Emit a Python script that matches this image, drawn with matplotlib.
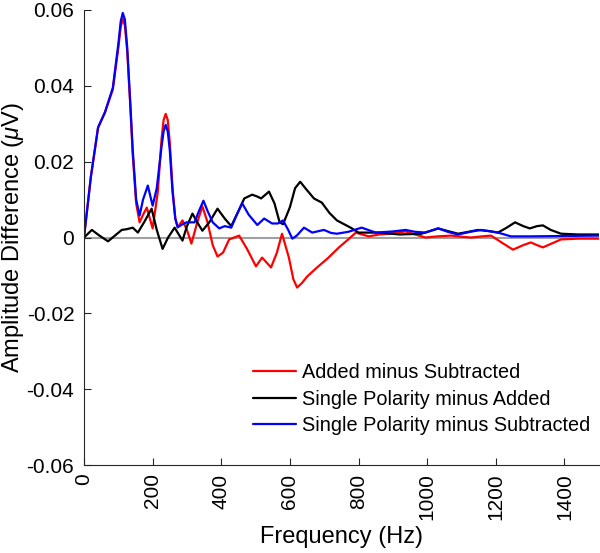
import numpy as np
import matplotlib
matplotlib.use("Agg")
import matplotlib.pyplot as plt

plt.rcParams["font.family"] = ["Liberation Sans", "DejaVu Sans"]
plt.rcParams["mathtext.fontset"] = "custom"
plt.rcParams["mathtext.it"] = "Liberation Sans:italic"

# Added minus Subtracted
red_f = [0, 20, 41, 61, 84, 100, 107, 113, 119, 126, 134, 142, 152, 162, 172, 183,
         192, 200, 215, 226, 232, 238, 244, 250, 258, 266, 273, 287, 300, 313, 330,
         345, 360, 375, 389, 405, 423, 452, 475, 501, 519, 545, 562, 577, 597, 610,
         621, 635, 650, 679, 710, 743, 770, 792, 810, 830, 860, 888, 937, 965, 995,
         1030, 1070, 1100, 1128, 1160, 1186, 1220, 1250, 1280, 1302, 1320, 1337,
         1365, 1390, 1440, 1500]
red_v = [0, 0.016, 0.029, 0.033, 0.039, 0.050, 0.0555, 0.0576, 0.056, 0.049, 0.036,
         0.022, 0.009, 0.004, 0.006, 0.0079, 0.005, 0.0024, 0.012, 0.026, 0.031,
         0.0326, 0.031, 0.025, 0.013, 0.005, 0.0027, 0.0045, 0.002, -0.0016, 0.004,
         0.0082, 0.004, -0.002, -0.005, -0.004, -0.0005, 0.0005, -0.003, -0.0076,
         -0.0053, -0.0079, -0.004, 0.001, -0.0053, -0.011, -0.0132, -0.012, -0.0103,
         -0.0079, -0.0055, -0.0026, -0.0005, 0.0013, 0.0008, 0.0003, 0.0008, 0.001,
         0.0016, 0.0008, 0, 0.0003, 0.0005, 0.0002, 0, 0.0003, 0.0005, -0.0015,
         -0.0032, -0.002, -0.0013, -0.002, -0.0026, -0.0015, -0.0005, -0.0003,
         -0.0003]

# Single Polarity minus Added
black_f = [0, 23, 45, 70, 90, 110, 125, 142, 157, 175, 197, 212, 229, 245, 264, 287,
           300, 316, 330, 345, 365, 389, 410, 429, 445, 467, 490, 505, 516, 539, 555,
           570, 580, 600, 615, 630, 645, 670, 693, 715, 737, 777, 800, 858, 920, 983,
           1032, 1060, 1090, 1120, 1148, 1180, 1206, 1230, 1256, 1280, 1299, 1320,
           1337, 1360, 1390, 1440, 1500]
black_v = [0, 0.002, 0.0005, -0.001, 0.0005, 0.002, 0.0022, 0.0026, 0.0013, 0.004,
           0.0076, 0.002, -0.003, 0.0, 0.0026, -0.0008, 0.003, 0.0063, 0.004, 0.0018,
           0.004, 0.0076, 0.005, 0.003, 0.006, 0.0103, 0.0113, 0.0108, 0.0103, 0.0121,
           0.009, 0.004, 0.0035, 0.008, 0.013, 0.0147, 0.013, 0.0103, 0.0092, 0.0065,
           0.0045, 0.0026, 0.0013, 0.0013, 0.0008, 0.001, 0.0024, 0.0017, 0.001,
           0.0015, 0.002, 0.0017, 0.0013, 0.0025, 0.004, 0.003, 0.0024, 0.003, 0.0032,
           0.002, 0.001, 0.0008, 0.0008]

# Single Polarity minus Subtracted
blue_f = [0, 20, 41, 61, 84, 100, 107, 113, 119, 126, 134, 142, 152, 162, 172, 186,
          193, 200, 212, 226, 232, 238, 244, 250, 258, 266, 273, 287, 299, 322, 335,
          348, 360, 375, 394, 410, 429, 445, 461, 480, 505, 525, 548, 565, 580, 595,
          607, 620, 641, 665, 699, 720, 737, 770, 809, 850, 900, 937, 965, 995, 1032,
          1060, 1090, 1125, 1157, 1185, 1206, 1244, 1300, 1400, 1500]
blue_v = [0, 0.016, 0.029, 0.033, 0.0395, 0.051, 0.057, 0.0592, 0.0575, 0.050, 0.037,
          0.023, 0.010, 0.0058, 0.010, 0.0137, 0.011, 0.0084, 0.013, 0.024, 0.028,
          0.0297, 0.028, 0.023, 0.012, 0.005, 0.0027, 0.0035, 0.004, 0.004, 0.007,
          0.0097, 0.007, 0.004, 0.0024, 0.003, 0.0026, 0.006, 0.009, 0.006, 0.0033,
          0.005, 0.0037, 0.0037, 0.0045, 0.002, -0.0003, 0.0005, 0.0026, 0.0013,
          0.002, 0.0012, 0.001, 0.0015, 0.0026, 0.0013, 0.0016, 0.002, 0.0015,
          0.0013, 0.0024, 0.0015, 0.0008, 0.0015, 0.002, 0.0016, 0.0013, 0.0003,
          0.0003, 0.0004, 0.0005]

x_ticks = [0, 200, 400, 600, 800, 1000, 1200, 1400]
y_ticks = [-0.06, -0.04, -0.02, 0, 0.02, 0.04, 0.06]
y_tick_labels = ["-0.06", "-0.04", "-0.02", "0", "0.02", "0.04", "0.06"]

fig = plt.figure(figsize=(6, 5.53), dpi=100)
ax = fig.add_axes([0.14, 0.159, 0.858, 0.823])

ax.axhline(0, color="#a0a0a0", lw=1.5, zorder=1)
style = dict(lw=1.6, solid_joinstyle="round", solid_capstyle="round")
ax.plot(red_f, red_v, color="red", label="Added minus Subtracted", **style)
ax.plot(black_f, black_v, color="black", label="Single Polarity minus Added", **style)
ax.plot(blue_f, blue_v, color="blue", label="Single Polarity minus Subtracted", **style)

ax.set_xlim(0, 1500)
ax.set_ylim(-0.06, 0.06)
ax.set_xticks(x_ticks)
ax.set_xticklabels([str(t) for t in x_ticks], rotation=90)
ax.set_yticks(y_ticks)
ax.set_yticklabels(y_tick_labels)
ax.tick_params(direction="in", labelsize=15, length=5, color="#262626")
ax.tick_params(axis="y", pad=7)
ax.tick_params(axis="x", pad=6)
for s in ["top", "right"]:
    ax.spines[s].set_visible(False)
for s in ["left", "bottom"]:
    ax.spines[s].set_color("#262626")

ax.set_xlabel("Frequency (Hz)", fontsize=17)
ax.set_ylabel(r"Amplitude Difference ($\mu$V)", fontsize=17)
ax.yaxis.set_label_coords(-0.112, 0.5)

ax.legend(loc="lower right", bbox_to_anchor=(1.019, 0.026), frameon=False,
          fontsize=14.3, handlelength=2.2, handletextpad=0.3, labelspacing=0.38)

fig.savefig("out.png", dpi=100)
